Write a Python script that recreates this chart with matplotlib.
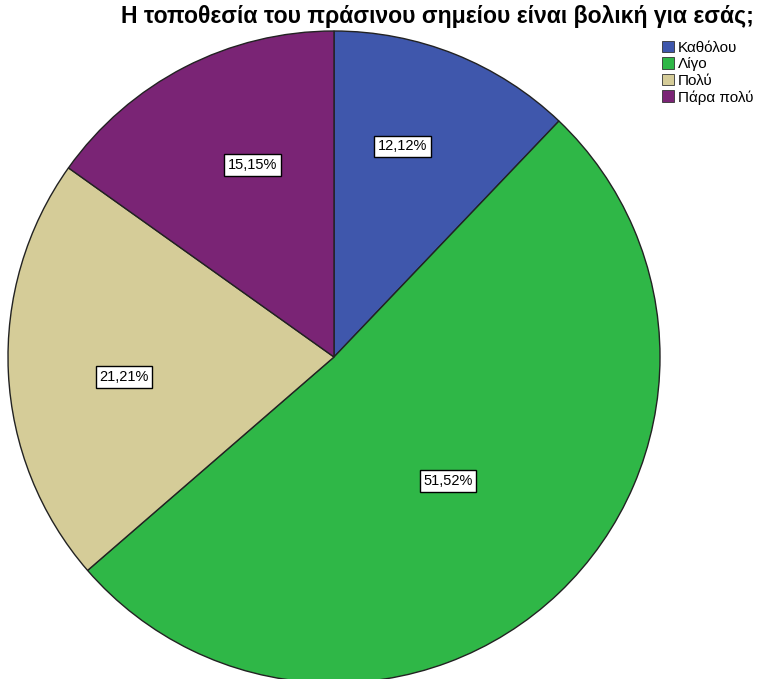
import numpy as np
import matplotlib
matplotlib.use("Agg")
import matplotlib.pyplot as plt
from matplotlib.patches import Patch

plt.rcParams['font.family'] = ['Liberation Sans', 'DejaVu Sans']

title = "Η τοποθεσία του πράσινου σημείου είναι βολική για εσάς;"
categories = ["Καθόλου", "Λίγο", "Πολύ", "Πάρα πολύ"]
percentages = [12.12, 51.52, 21.21, 15.15]
colors = ["#3F57AC", "#2FB747", "#D5CC98", "#7A2475"]
label_radius = [0.68, 0.517, 0.647, 0.64]
label_shift = [3.8, -1.0, 2.7, -4.2]  # degrees, nudges along the arc

W, H = 760, 679
fig = plt.figure(figsize=(W / 100, H / 100), dpi=100)
cx, cy, r = 334, 357, 326
ax = fig.add_axes([(cx - r) / W, 1 - (cy + r) / H, 2 * r / W, 2 * r / H])

wedges, _ = ax.pie(percentages, colors=colors, startangle=90, counterclock=False,
                   radius=1.0, wedgeprops=dict(edgecolor="#222222", linewidth=1.0))
ax.set_xlim(-1, 1)
ax.set_ylim(-1, 1)
ax.set_aspect("equal")
ax.axis("off")

for w, pct, lr, sh in zip(wedges, percentages, label_radius, label_shift):
    mid = np.deg2rad((w.theta1 + w.theta2) / 2 + sh)
    ax.text(lr * np.cos(mid), lr * np.sin(mid), f"{pct:.2f}%".replace(".", ","),
            ha="center", va="center", fontsize=10.5, color="black",
            bbox=dict(boxstyle="square,pad=0.25", facecolor="white",
                      edgecolor="black", linewidth=1.0))

fig.text(437 / W, 1 - 17 / H, title, ha="center", va="center",
         fontsize=16.6, fontweight="bold")

handles = [Patch(facecolor=c, edgecolor="#333333", linewidth=0.6) for c in colors]
fig.legend(handles, categories, loc="upper left",
           bbox_to_anchor=(651 / W, 1 - 30 / H), frameon=False,
           fontsize=11, handlelength=0.8, handleheight=0.8,
           handletextpad=0.25, labelspacing=0.15, borderpad=0.2)

fig.savefig("out.png", dpi=100, facecolor="white")
